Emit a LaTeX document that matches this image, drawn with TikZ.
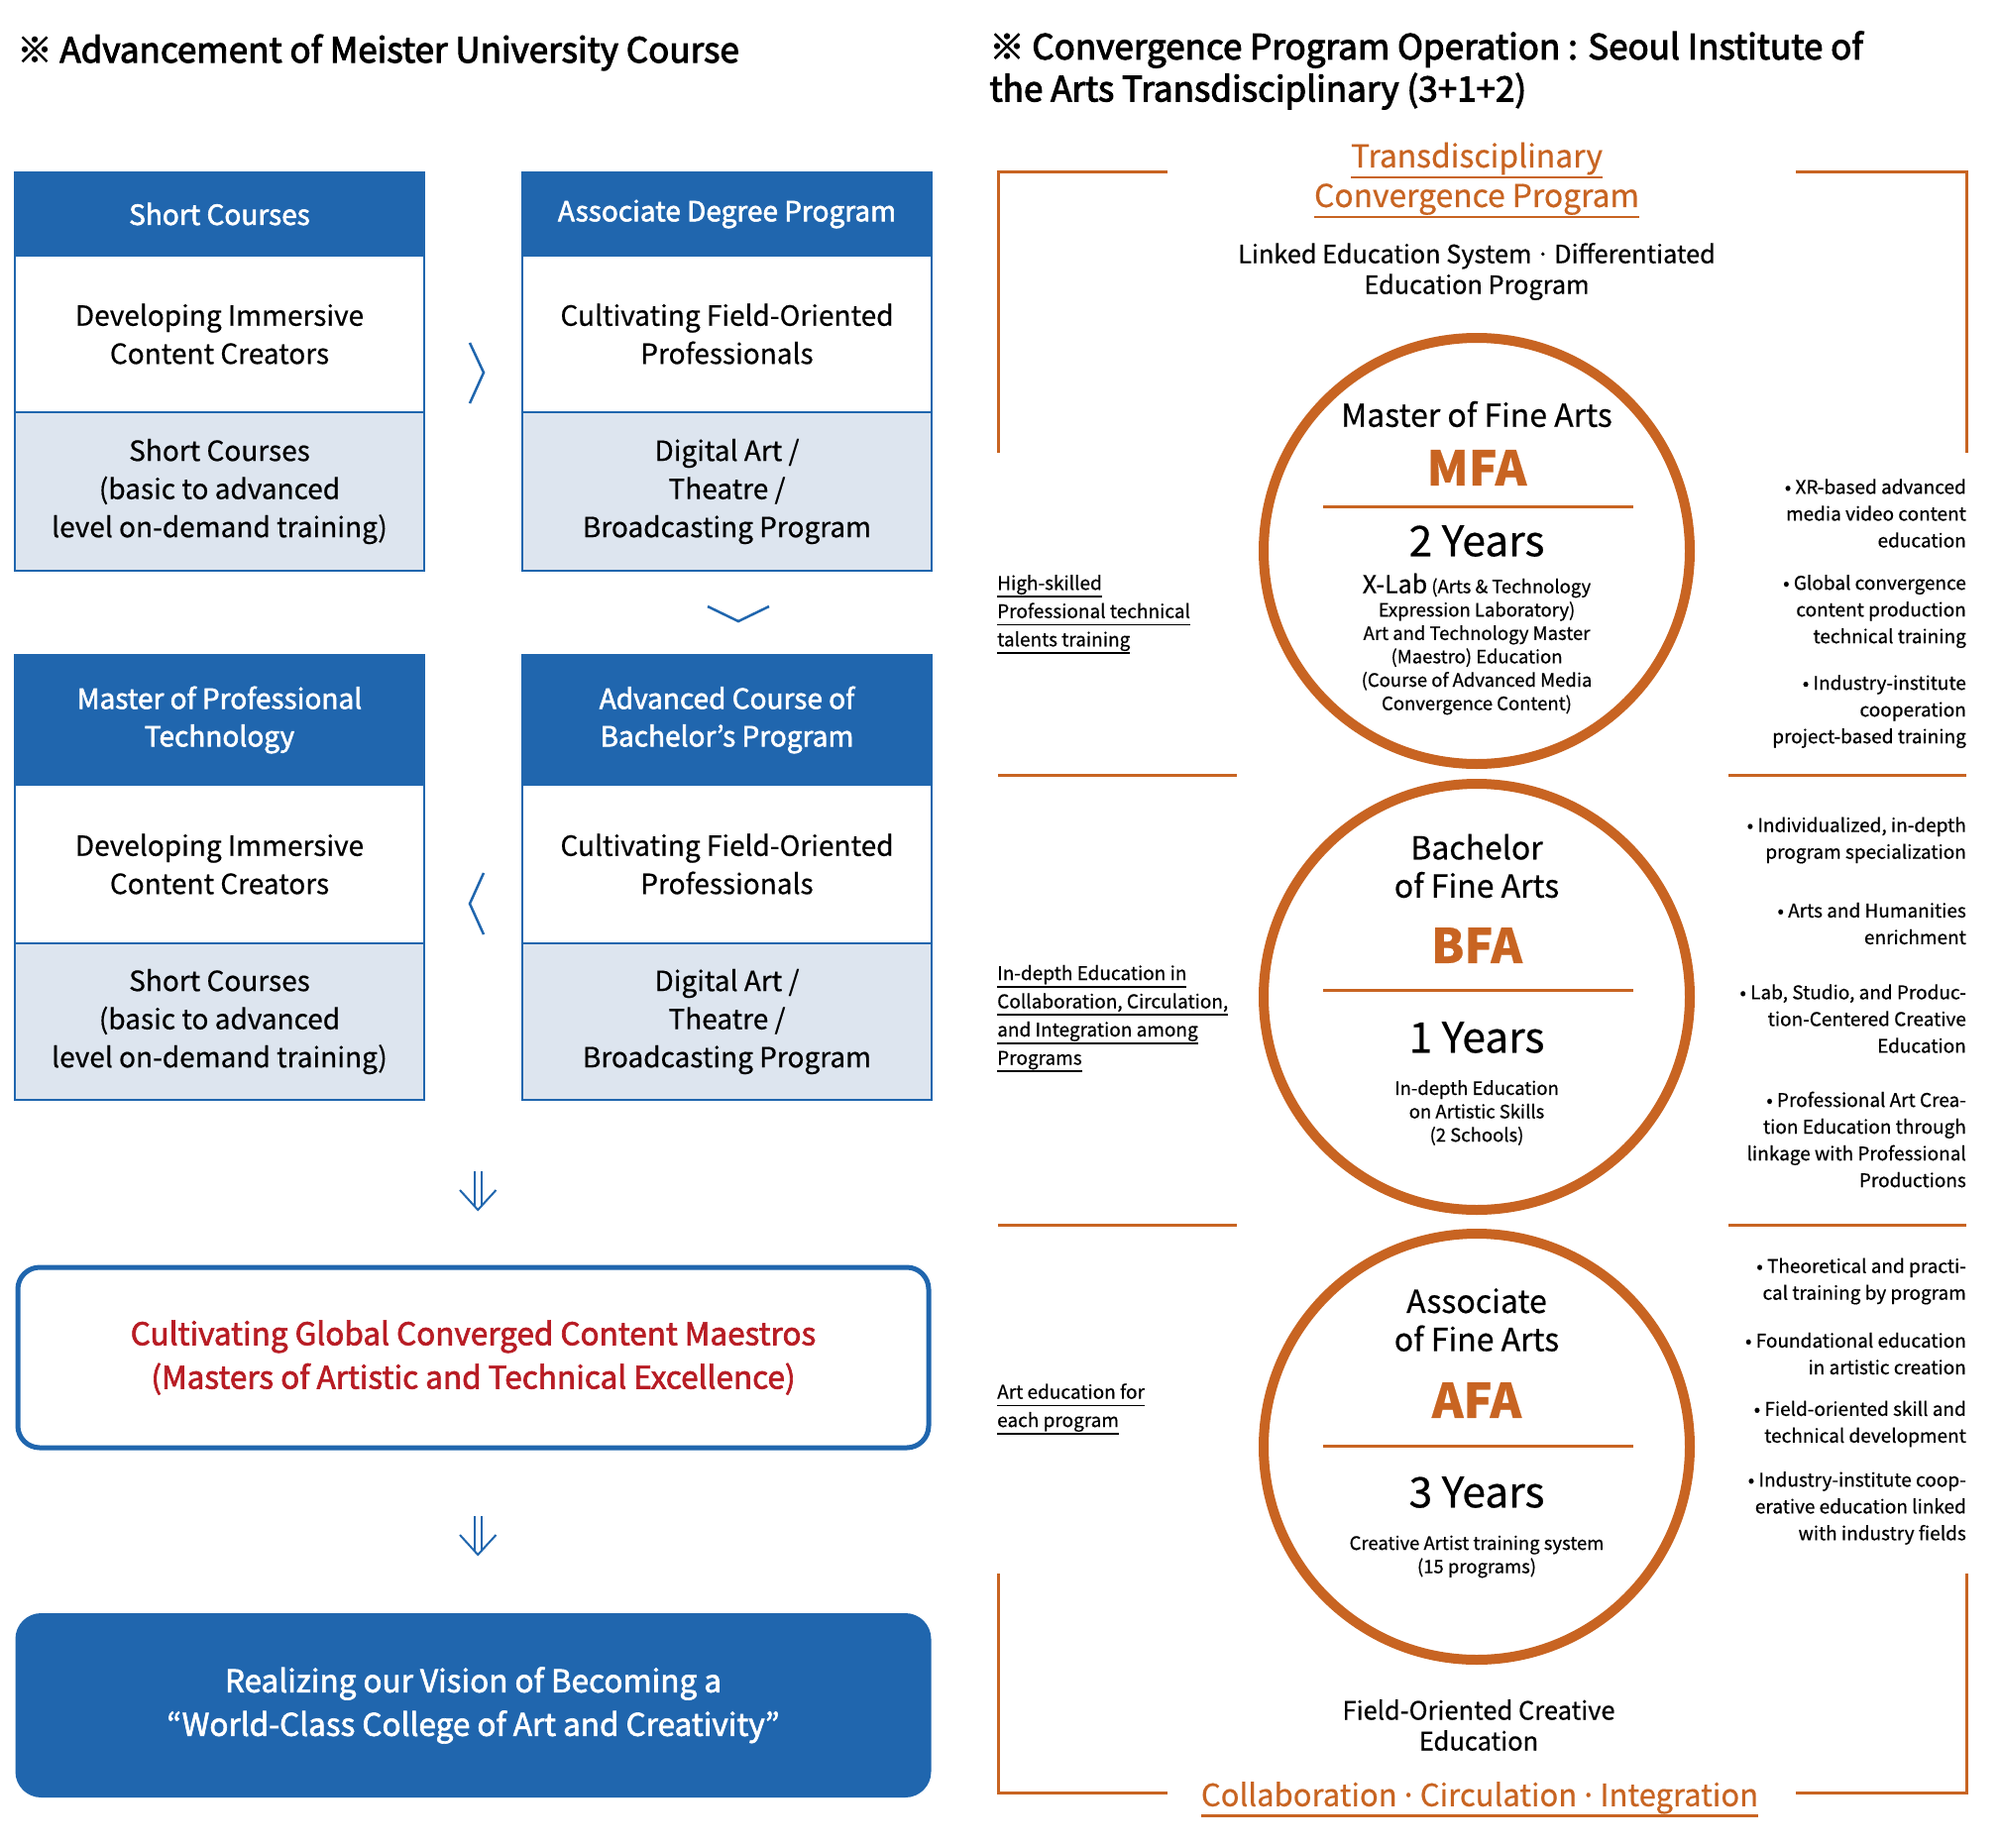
\documentclass[tikz,border=0pt]{standalone}
\usepackage{fontspec}
\setmainfont{Noto Sans CJK KR}[FakeBold=0.5]
\newfontfamily\medfont{Noto Sans CJK KR}[FakeBold=2]
\newfontfamily\headfont{Noto Sans CJK KR}[FakeBold=2.8]
\usetikzlibrary{positioning}
\definecolor{meisterblue}{RGB}{32,102,174}
\definecolor{meistergrey}{RGB}{221,229,239}
\definecolor{artorange}{RGB}{200,100,34}
\definecolor{maestrored}{RGB}{184,28,36}
\newcommand{\fsz}[2]{\fontsize{#1}{#2}\selectfont}
\newcommand{\ulbar}[2][0.4em]{\setbox0=\hbox{#2}\leavevmode\rlap{\rule[-#1]{\wd0}{0.09em}}\box0}
\newcommand{\middot}[1]{\makebox[#1]{·}}

\begin{document}
\begin{tikzpicture}[x=1pt, y=-1pt,
    hdbox/.style={draw=meisterblue, fill=meisterblue, line width=1.5pt, text=white, anchor=north west,
      minimum width=413pt, inner sep=0pt, outer sep=0pt, align=center, font=\medfont\fsz{28}{38}},
    midbox/.style={draw=meisterblue, fill=white, line width=1.5pt, anchor=north,
      minimum width=413pt, inner sep=0pt, outer sep=0pt, align=center, font=\fsz{28}{38.5}},
    lowbox/.style={midbox, fill=meistergrey},
    chev/.style={draw=meisterblue, line width=2.5pt},
    orangerule/.style={draw=artorange, line width=3pt},
    ring/.style={circle, draw=artorange, line width=10pt, minimum size=430pt, inner sep=0pt},
    ctitle/.style={font=\fsz{32}{38.5}, align=center},
    cabbr/.style={font=\fsz{48}{48}\bfseries, text=artorange},
    cyears/.style={font=\fsz{42.5}{42.5}},
    cdesc/.style={font=\fsz{18.5}{23.6}, align=center},
    bulletnote/.style={font=\fsz{19}{27}, align=right, anchor=east, inner sep=0pt},
    leftnote/.style={font=\fsz{19}{28.5}, align=left, anchor=west, inner sep=0pt}
  ]
  \fill[white] (0,0) rectangle (2019,1865);
  \useasboundingbox (0,0) rectangle (2019,1865);

  % left half: course boxes
  \node[anchor=west, font=\headfont\fsz{35}{42}] (lefttitle) at (14,53)
    {※ Advancement of Meister University Course};

  \node[hdbox, minimum height=84pt] (shorthead) at (15,174) {Short Courses};
  \node[midbox, minimum height=158pt, below=0pt of shorthead] (shortmid) {Developing Immersive\\Content Creators};
  \node[lowbox, minimum height=160pt, below=0pt of shortmid] (shortlow) {Short Courses\\(basic to advanced\\level on-demand training)};

  \node[hdbox, minimum height=84pt] (assochead) at (527,174) {Associate Degree Program};
  \node[midbox, minimum height=158pt, below=0pt of assochead] (assocmid) {Cultivating Field-Oriented\\Professionals};
  \node[lowbox, minimum height=160pt, below=0pt of assocmid] (assoclow) {Digital Art /\\Theatre /\\Broadcasting Program};

  \node[hdbox, minimum height=131pt] (masterhead) at (15,661) {Master of Professional\\Technology};
  \node[midbox, minimum height=160pt, below=0pt of masterhead] (mastermid) {Developing Immersive\\Content Creators};
  \node[lowbox, minimum height=158pt, below=0pt of mastermid] (masterlow) {Short Courses\\(basic to advanced\\level on-demand training)};

  \node[hdbox, minimum height=131pt] (advhead) at (527,661) {Advanced Course of\\Bachelor’s Program};
  \node[midbox, minimum height=160pt, below=0pt of advhead] (advmid) {Cultivating Field-Oriented\\Professionals};
  \node[lowbox, minimum height=158pt, below=0pt of advmid] (advlow) {Digital Art /\\Theatre /\\Broadcasting Program};

  \draw[chev] (474,346) -- (488,376) -- (474,407);
  \draw[chev] (714,612) -- (745,627) -- (776,612);
  \draw[chev] (488,881) -- (474,912) -- (488,943);

  \foreach \y in {1182,1530} {
    \draw[chev, line width=2pt] (478.5,\y) -- ++(0,35) (486,\y) -- ++(0,35);
    \draw[chev, line width=2pt] (464,\y+19) -- (482.2,\y+39) -- (500.5,\y+19);
  }

  \node[draw=meisterblue, line width=5pt, rounded corners=22pt, minimum width=919pt, minimum height=182pt,
    text=maestrored, align=center, font=\medfont\fsz{31.5}{44}] (goal) at (477.5,1370)
    {Cultivating Global Converged Content Maestros\\(Masters of Artistic and Technical Excellence)};
  \node[fill=meisterblue, rounded corners=26pt, minimum width=924pt, minimum height=186pt,
    text=white, align=center, font=\medfont\fsz{31.5}{44}] (vision) at (477.5,1721)
    {Realizing our Vision of Becoming a\\“World-Class College of Art and Creativity”};

  % right half: 3+1+2 program
  \node[anchor=west, align=left, font=\headfont\fsz{35}{42.5}] (righttitle) at (995,71)
    {※ Convergence Program Operation : Seoul Institute of\\the Arts Transdisciplinary (3+1+2)};

  \draw[orangerule] (1178,174) -- (1007,174) -- (1007,457);
  \draw[orangerule] (1812,174) -- (1984,174) -- (1984,457);
  \draw[orangerule] (1007,1588) -- (1007,1809) -- (1178,1809);
  \draw[orangerule] (1984,1588) -- (1984,1809) -- (1812,1809);
  \foreach \y in {782,1236} {
    \draw[orangerule] (1007,\y) -- (1248,\y);
    \draw[orangerule] (1744,\y) -- (1984,\y);
  }

  \node[font=\fsz{31.8}{40}, text=artorange, align=center] (transhead) at (1490,182)
    {\ulbar[0.36em]{Transdisciplinary}\\\ulbar[0.36em]{Convergence Program}};
  \node[font=\fsz{25.3}{31}, align=center] (linked) at (1490,274)
    {Linked Education System\middot{0.9em}Differentiated\\Education Program};

  \node[ring] (mfa) at (1490,556) {};
  \node[ring] (bfa) at (1490,1006) {};
  \node[ring] (afa) at (1490,1460) {};

  \node[ctitle] (mfatitle) at (1490,418) {Master of Fine Arts};
  \node[cabbr] (mfaabbr) at (1490,472) {MFA};
  \draw[orangerule] (1335,511) -- (1648,511);
  \node[cyears] (mfayears) at (1490,546) {2 Years};
  \node[cdesc] (mfadesc) at (1490,650) {{\fsz{25}{24}X-Lab} (Arts \& Technology\\Expression Laboratory)\\Art and Technology Master\\(Maestro) Education\\(Course of Advanced Media\\Convergence Content)};

  \node[ctitle] (bfatitle) at (1490,874) {Bachelor\\of Fine Arts};
  \node[cabbr] (bfaabbr) at (1490,954) {BFA};
  \draw[orangerule] (1335,999) -- (1648,999);
  \node[cyears] (bfayears) at (1490,1047) {1 Years};
  \node[cdesc] (bfadesc) at (1490,1123) {In-depth Education\\on Artistic Skills\\(2 Schools)};

  \node[ctitle] (afatitle) at (1490,1332) {Associate\\of Fine Arts};
  \node[cabbr] (afaabbr) at (1490,1413) {AFA};
  \draw[orangerule] (1335,1459) -- (1648,1459);
  \node[cyears] (afayears) at (1490,1506) {3 Years};
  \node[cdesc] (afadesc) at (1490,1571) {Creative Artist training system\\(15 programs)};

  \node[font=\fsz{25.5}{31}, align=center] (fieldedu) at (1492,1741) {Field-Oriented Creative\\Education};
  \node[font=\fsz{31}{31}, text=artorange] (cci) at (1493,1816)
    {\ulbar[0.36em]{Collaboration\middot{0.75em}Circulation\middot{0.75em}Integration}};

  \node[leftnote] (hiskill) at (1006,620) {\ulbar{High-skilled}\\\ulbar{Professional technical}\\\ulbar{talents training}};
  \node[leftnote] (indepth) at (1006,1028) {\ulbar{In-depth Education in}\\\ulbar{Collaboration, Circulation,}\\\ulbar{and Integration among}\\\ulbar{Programs}};
  \node[leftnote] (arted) at (1006,1422) {\ulbar{Art education for}\\\ulbar{each program}};

  \foreach \y/\t in {
      518/{• XR-based advanced\\media video content\\education},
      617/{• Global convergence\\content production\\technical training},
      718/{• Industry-institute\\cooperation\\project-based training},
      848/{• Individualized, in-depth\\program specialization},
      932/{• Arts and Humanities\\enrichment},
      1028/{• Lab, Studio, and Produc-\\tion-Centered Creative\\Education},
      1150/{• Professional Art Crea-\\tion Education through\\linkage with Professional\\Productions},
      1293/{• Theoretical and practi-\\cal training by program},
      1366/{• Foundational education\\in artistic creation},
      1437/{• Field-oriented skill and\\technical development},
      1522/{• Industry-institute coop-\\erative education linked\\with industry fields}} {
    \node[bulletnote] (note\y) at (1984,\y) {\t};
  }
\end{tikzpicture}
\end{document}
